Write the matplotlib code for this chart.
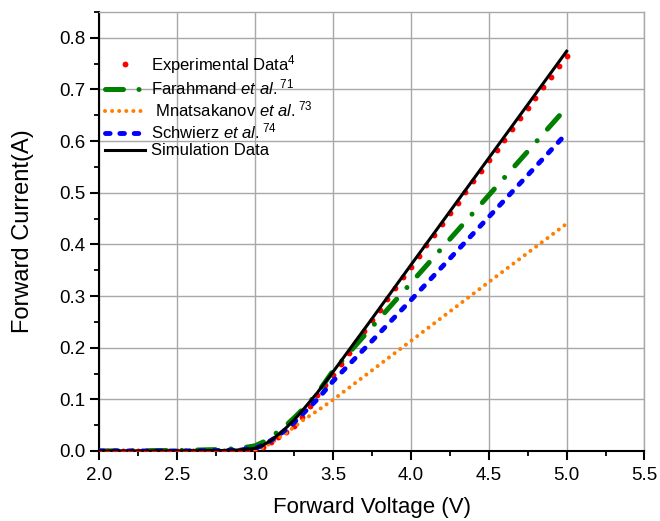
import matplotlib
matplotlib.use("Agg")
import matplotlib.pyplot as plt
from matplotlib.ticker import MultipleLocator, FormatStrFormatter

plt.rcParams['font.family'] = ['Liberation Sans', 'DejaVu Sans']
plt.rcParams['mathtext.fontset'] = 'custom'
plt.rcParams['mathtext.rm'] = 'Liberation Sans'
plt.rcParams['mathtext.it'] = 'Liberation Sans:italic'

# Experimental data (red dots)
exp_v = [2.00, 2.05, 2.10, 2.15, 2.20, 2.25, 2.30, 2.35, 2.40, 2.45,
         2.50, 2.55, 2.60, 2.65, 2.70, 2.75, 2.80, 2.85, 2.90, 2.95,
         3.00, 3.05, 3.10, 3.15, 3.20, 3.25, 3.30, 3.35, 3.40, 3.45,
         3.50, 3.55, 3.60, 3.65, 3.70, 3.75, 3.80, 3.85, 3.90, 3.95,
         4.00, 4.05, 4.10, 4.15, 4.20, 4.25, 4.30, 4.35, 4.40, 4.45,
         4.50, 4.55, 4.60, 4.65, 4.70, 4.75, 4.80, 4.85, 4.90, 4.95, 5.00]
exp_i = [0.0, 0.0, 0.0, 0.0, 0.0, 0.0, 0.0, 0.0, 0.0, 0.0,
         0.0, 0.0, 0.0, 0.0, 0.0, 0.0, 0.0, 0.0, 0.001, 0.001,
         0.003, 0.008, 0.017, 0.027, 0.037, 0.048, 0.065, 0.088, 0.108, 0.128,
         0.148, 0.169, 0.190, 0.211, 0.232, 0.253, 0.273, 0.294, 0.315, 0.336,
         0.357, 0.377, 0.398, 0.419, 0.440, 0.460, 0.481, 0.501, 0.522, 0.543,
         0.563, 0.583, 0.603, 0.624, 0.644, 0.664, 0.684, 0.705, 0.725, 0.745, 0.765]

# Model curves
mod_v = [2.0, 2.5, 2.8, 2.9, 3.0, 3.05, 3.1, 3.15, 3.2, 3.25, 3.3, 3.35, 3.4,
         3.5, 3.75, 4.0, 4.5, 5.0]
sim_i = [0.0, 0.0, 0.001, 0.002, 0.005, 0.011, 0.020, 0.032, 0.045, 0.060,
         0.077, 0.095, 0.113, 0.153, 0.256, 0.360, 0.567, 0.774]
farahmand_i = [0.0, 0.001, 0.003, 0.005, 0.010, 0.017, 0.026, 0.038, 0.050,
               0.064, 0.079, 0.095, 0.112, 0.155, 0.240, 0.325, 0.495, 0.665]
schwierz_i = [0.0, 0.0, 0.001, 0.002, 0.005, 0.011, 0.020, 0.030, 0.042,
              0.055, 0.070, 0.085, 0.100, 0.135, 0.213, 0.292, 0.453, 0.615]
mnatsakanov_i = [0.0, 0.0, 0.0, 0.001, 0.002, 0.006, 0.015, 0.025, 0.035,
                 0.046, 0.058, 0.068, 0.078, 0.099, 0.156, 0.213, 0.327, 0.440]

labels = ['Experimental Data$^{4}$',
          'Farahmand $\\mathit{et\\ al.}^{71}$',
          ' Mnatsakanov $\\mathit{et\\ al.}^{73}$',
          'Schwierz $\\mathit{et\\ al.}^{74}$',
          'Simulation Data']

fig = plt.figure(figsize=(6.6, 5.21), dpi=100)
ax = fig.add_axes([0.1505, 0.1344, 0.826, 0.8426])

ax.plot(exp_v, exp_i, 'o', color='#ff0000', markersize=4.2, markeredgewidth=0,
        label=labels[0], zorder=3)
ax.plot(mod_v, farahmand_i, color='#008000', lw=3.6, dashes=(3.6, 3.1, 0.01, 3.1),
        dash_capstyle='round', label=labels[1], zorder=4)
ax.plot(mod_v, mnatsakanov_i, color='#ff8000', lw=2.9, dashes=(0.01, 1.75),
        dash_capstyle='round', label=labels[2], zorder=4)
ax.plot(mod_v, schwierz_i, color='#0000ff', lw=3.5, dashes=(0.95, 2.0),
        dash_capstyle='round', label=labels[3], zorder=4)
ax.plot(mod_v, sim_i, color='black', lw=2.2, label=labels[4], zorder=5)

ax.set_xlim(2.0, 5.5)
ax.set_ylim(0.0, 0.85)
ax.xaxis.set_major_locator(MultipleLocator(0.5))
ax.xaxis.set_minor_locator(MultipleLocator(0.25))
ax.yaxis.set_major_locator(MultipleLocator(0.1))
ax.yaxis.set_minor_locator(MultipleLocator(0.05))
ax.xaxis.set_major_formatter(FormatStrFormatter('%.1f'))
ax.yaxis.set_major_formatter(FormatStrFormatter('%.1f'))

ax.grid(True, which='major', color='#a8a8a8', lw=1.0)
ax.set_axisbelow(True)
for s in ['top', 'right']:
    ax.spines[s].set_color('#a8a8a8')
    ax.spines[s].set_linewidth(1.0)
for s in ['left', 'bottom']:
    ax.spines[s].set_linewidth(1.5)
ax.tick_params(which='major', direction='out', length=6.5, width=1.5,
               labelsize=13.5)
ax.tick_params(axis='y', which='major', pad=3.5)
ax.tick_params(axis='x', which='major', pad=5)
ax.tick_params(which='minor', direction='out', length=3.6, width=1.3)

ax.set_xlabel('Forward Voltage (V)', fontsize=16)
ax.xaxis.set_label_coords(0.5, -0.105)
ax.set_ylabel('Forward Current(A)', fontsize=17)
ax.yaxis.set_label_coords(-0.12, 0.5)

leg = ax.legend(loc='upper left', bbox_to_anchor=(0.01, 0.907), frameon=False,
                fontsize=12, handlelength=2.4, handletextpad=0.35,
                labelspacing=0.12, numpoints=1, borderaxespad=0.0, borderpad=0.0)

fig.savefig('out.png', dpi=100)
